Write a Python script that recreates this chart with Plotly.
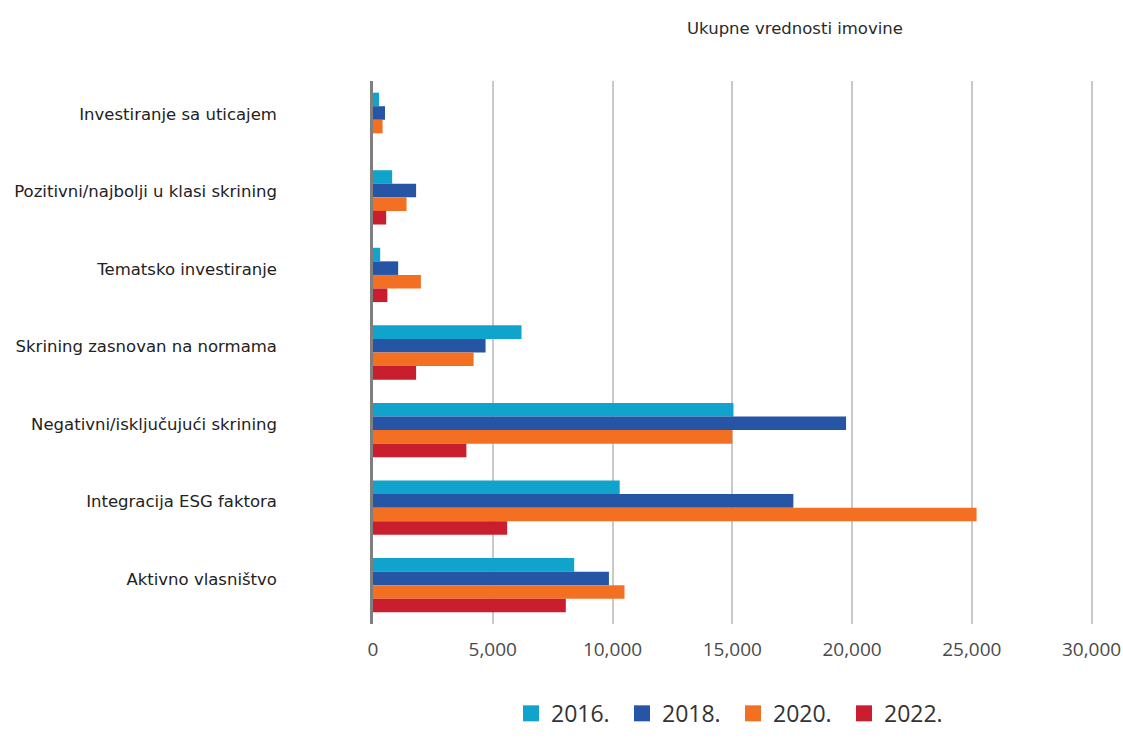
import plotly.graph_objects as go

# Strategies (top to bottom) and assets per survey year
categories = [
    "Investiranje sa uticajem",
    "Pozitivni/najbolji u klasi skrining",
    "Tematsko investiranje",
    "Skrining zasnovan na normama",
    "Negativni/isključujući skrining",
    "Integracija ESG faktora",
    "Aktivno vlasništvo",
]
years = ["2016.", "2018.", "2020.", "2022."]
values_2016 = [250, 800, 300, 6200, 15050, 10300, 8400]
values_2018 = [500, 1800, 1050, 4700, 19750, 17550, 9850]
values_2020 = [400, 1400, 2000, 4200, 15000, 25200, 10500]
values_2022 = [0, 550, 600, 1800, 3900, 5600, 8050]
x_ticks = [0, 5000, 10000, 15000, 20000, 25000, 30000]

series = [values_2016, values_2018, values_2020, values_2022]
colors = ["#10A4CC", "#2655A6", "#F37022", "#C81E2D"]

fig = go.Figure()
for name, vals, col in zip(years, series, colors):
    fig.add_trace(go.Bar(
        x=vals, y=categories, orientation="h", name=name,
        marker=dict(color=col, line=dict(width=0)),
        showlegend=False,
    ))
# legend entries with larger square swatches
for name, col in zip(years, colors):
    fig.add_trace(go.Scatter(
        x=[None], y=[None], mode="markers", name=name,
        marker=dict(symbol="square", size=19, color=col),
    ))

fig.update_layout(
    width=1123, height=740,
    margin=dict(l=373, r=30, t=81, b=116, autoexpand=False),
    paper_bgcolor="white", plot_bgcolor="white",
    barmode="group", bargap=0.3, bargroupgap=0,
    font=dict(family="DejaVu Sans", color="#222222"),
    title=dict(text="Ukupne vrednosti imovine", x=795 / 1123, xanchor="center",
               xref="container", y=1 - 28 / 740, yanchor="middle",
               font=dict(size=16.5, color="#2a2a2a")),
    legend=dict(orientation="h", x=0.5, xanchor="center", y=-0.125, yanchor="top",
                font=dict(family="Open Sans", size=23, color="#333333"),
                itemsizing="trace", traceorder="normal", entrywidth=66),
    showlegend=True,
)

fig.update_xaxes(
    range=[0, 30060], tickvals=x_ticks, ticktext=[f"{v:,}" for v in x_ticks],
    showgrid=True, gridcolor="#C9C9C9", gridwidth=1.5,
    zeroline=False, showline=False, ticks="", automargin=False,
    tickfont=dict(family="Open Sans", size=19, color="#4a4a4a"),
    ticklabelstandoff=12,
)
fig.update_yaxes(
    categoryorder="array", categoryarray=categories, autorange="reversed",
    showline=True, linecolor="#7F7F7F", linewidth=2.5,
    showgrid=False, ticks="", automargin=False,
    tickfont=dict(family="DejaVu Sans", size=16.5, color="#222222"),
    ticklabelstandoff=90, ticklabelshift=6,
)

fig.write_html("out.html")
